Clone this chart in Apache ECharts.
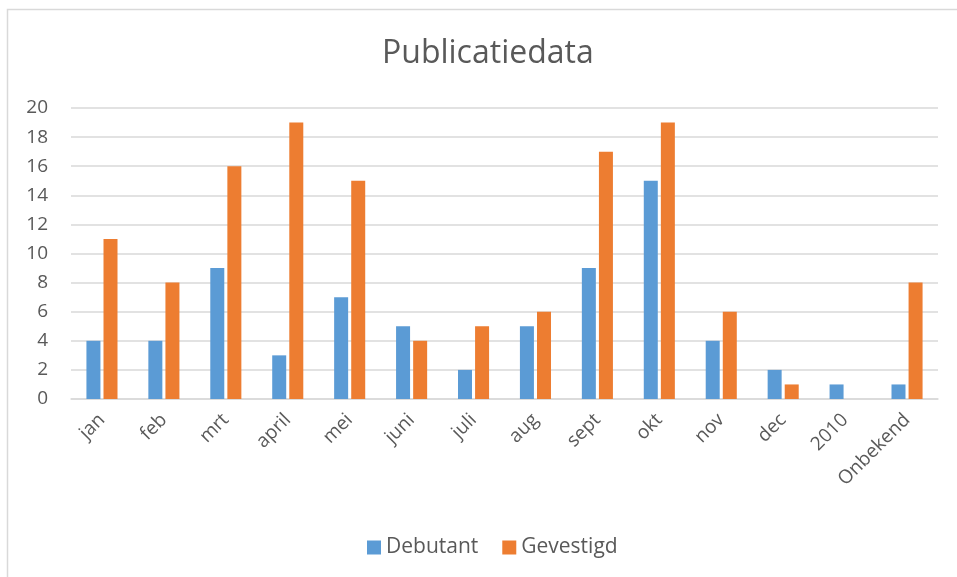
<!DOCTYPE html>
<html>
<head>
<meta charset="utf-8">
<script src="https://cdn.jsdelivr.net/npm/echarts@6/dist/echarts.min.js"></script>
<style>
  html, body { margin: 0; padding: 0; background: #fff; }
  #chart { width: 957px; height: 577px; }
</style>
</head>
<body>
<div id="chart"></div>
<script>
const categories = ['jan', 'feb', 'mrt', 'april', 'mei', 'juni', 'juli', 'aug', 'sept', 'okt', 'nov', 'dec', '2010', 'Onbekend'];
const debutant = [4, 4, 9, 3, 7, 5, 2, 5, 9, 15, 4, 2, 1, 1];
const gevestigd = [11, 8, 16, 19, 15, 4, 5, 6, 17, 19, 6, 1, 0, 8];
const yTicks = [0, 20, 2]; // min, max, interval

const chart = echarts.init(document.getElementById('chart'));
const font = '"Open Sans", "Liberation Sans", sans-serif';

chart.setOption({
  backgroundColor: '#ffffff',
  color: ['#5B9BD5', '#ED7D31'],
  animation: false,
  textStyle: { fontFamily: font },
  graphic: [{
    type: 'rect',
    shape: { x: 7.5, y: 9.5, width: 1200, height: 1200 },
    style: { fill: 'none', stroke: '#d9d9d9', lineWidth: 1.5 },
    silent: true
  }],
  title: {
    text: 'Publicatiedata',
    left: 377,
    top: 33,
    textStyle: { fontFamily: font, fontSize: 32, fontWeight: 'normal', color: '#595959' }
  },
  legend: {
    bottom: 14,
    left: 362,
    itemWidth: 14,
    itemHeight: 14,
    itemGap: 24,
    icon: 'rect',
    textStyle: { fontFamily: font, fontSize: 21, color: '#595959' },
    data: ['Debutant', 'Gevestigd']
  },
  grid: { left: 71, right: 19, top: 108, bottom: 178, containLabel: false },
  xAxis: {
    type: 'category',
    data: categories,
    axisLine: { lineStyle: { color: '#d9d9d9', width: 1.5 } },
    axisTick: { show: false },
    axisLabel: { rotate: 45, fontSize: 19, color: '#595959', margin: 18, interval: 0, fontFamily: font }
  },
  yAxis: {
    type: 'value',
    min: yTicks[0],
    max: yTicks[1],
    interval: yTicks[2],
    axisLine: { show: false },
    axisTick: { show: false },
    splitLine: { lineStyle: { color: '#d9d9d9', width: 1.5 } },
    axisLabel: { fontSize: 19, color: '#595959', margin: 23, fontFamily: font }
  },
  series: [
    { name: 'Debutant', type: 'bar', data: debutant, barWidth: 14, barGap: '22%' },
    { name: 'Gevestigd', type: 'bar', data: gevestigd, barWidth: 14 }
  ]
});
</script>
</body>
</html>
